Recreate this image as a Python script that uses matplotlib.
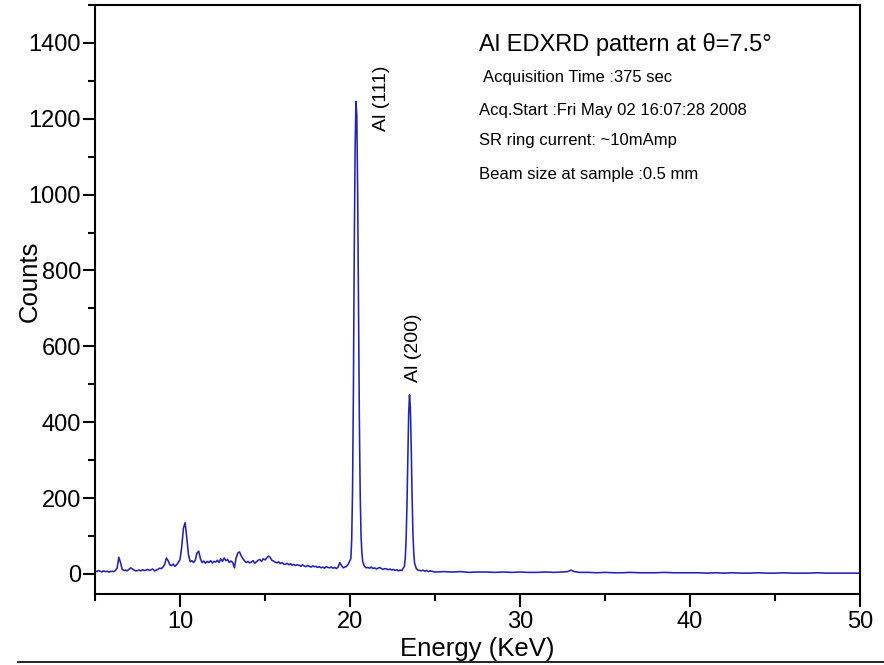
import numpy as np
import matplotlib
matplotlib.use('Agg')
import matplotlib.pyplot as plt
from matplotlib.ticker import MultipleLocator
from matplotlib.lines import Line2D

plt.rcParams['font.family'] = ['Liberation Sans', 'DejaVu Sans']

# --- spectrum ---
# low energy background, 5.0 .. 19.9 keV, 0.1 keV step
e_low = np.round(np.arange(5.0, 20.0, 0.1), 2)
c_low = [8, 6, 9, 7, 5, 8, 6, 7, 5, 6,
         7, 6, 9, 15, 44, 30, 12, 9, 10, 8,
         12, 16, 13, 10, 8, 9, 10, 8, 11, 9,
         10, 12, 9, 11, 13, 8, 10, 12, 15, 14,
         18, 25, 42, 35, 24, 22, 26, 20, 24, 30,
         38, 70, 120, 135, 95, 50, 32, 35, 30, 36,
         55, 60, 40, 30, 34, 28, 33, 30, 35, 29,
         33, 31, 36, 30, 40, 33, 42, 35, 38, 30,
         34, 30, 16, 42, 55, 58, 48, 40, 34, 30,
         33, 29, 31, 35, 28, 32, 36, 38, 33, 40,
         37, 42, 47, 44, 36, 34, 31, 29, 32, 27,
         30, 26, 25, 28, 24, 27, 23, 25, 22, 24,
         23, 20, 24, 21, 19, 22, 20, 18, 21, 19,
         20, 17, 19, 16, 18, 15, 19, 17, 16, 18,
         15, 17, 14, 18, 30, 22, 16, 18, 20, 26]

# Al (111) peak
e_111 = [20.05, 20.1, 20.15, 20.2, 20.25, 20.3, 20.35, 20.4, 20.45, 20.5,
         20.55, 20.6, 20.65, 20.7, 20.75, 20.85, 20.95]
c_111 = [40, 90, 220, 480, 850, 1120, 1246, 1210, 1010, 700,
         410, 210, 100, 55, 32, 20, 16]

# between the peaks, 21.05 .. 23.05 keV
e_mid = np.round(np.arange(21.05, 23.15, 0.1), 2)
c_mid = [17, 15, 18, 14, 16, 13, 15, 17, 14, 12, 14,
         13, 11, 13, 10, 12, 9, 11, 8, 10, 9]

# Al (200) peak
e_200 = [23.2, 23.25, 23.3, 23.35, 23.4, 23.45, 23.5, 23.55, 23.6, 23.65,
         23.7, 23.75, 23.8, 23.9, 24.0]
c_200 = [20, 40, 90, 180, 300, 420, 472, 440, 340, 210,
         110, 55, 28, 14, 10]

# high energy tail, 24.1 .. 50 keV
e_high = [24.1, 24.2, 24.3, 24.4, 24.5, 24.6, 24.7, 24.8, 24.9, 25.0,
          25.5, 26.0, 26.5, 27.0, 27.5, 28.0, 28.5, 29.0, 29.5, 30.0,
          30.5, 31.0, 31.5, 32.0, 32.5, 32.8, 33.0, 33.2, 33.5, 34.0,
          34.5, 35.0, 35.5, 36.0, 36.5, 37.0, 37.5, 38.0, 38.5, 39.0,
          39.5, 40.0, 40.5, 41.0, 41.5, 42.0, 42.5, 43.0, 43.5, 44.0,
          44.5, 45.0, 45.5, 46.0, 46.5, 47.0, 47.5, 48.0, 48.5, 49.0,
          49.5, 50.0]
c_high = [9, 8, 10, 7, 9, 6, 8, 7, 6, 5,
          6, 5, 6, 4, 5, 5, 4, 5, 4, 5,
          4, 4, 5, 4, 5, 6, 10, 6, 4, 4,
          3, 4, 3, 3, 4, 3, 3, 3, 4, 3,
          3, 3, 3, 2, 3, 2, 3, 2, 2, 3,
          2, 2, 3, 2, 2, 2, 3, 2, 2, 2,
          2, 2]

energy = np.concatenate([e_low, e_111, e_mid, e_200, e_high])
counts = np.concatenate([c_low, c_111, c_mid, c_200, c_high])

info = ["Acquisition Time :375 sec",
        "Acq.Start :Fri May 02 16:07:28 2008",
        "SR ring current: ~10mAmp",
        "Beam size at sample :0.5 mm"]

fig = plt.figure(figsize=(8.84, 6.65), dpi=100)
ax = fig.add_axes([95/884, 1-594/665, (860-95)/884, (594-5)/665])

ax.plot(energy, counts, color='#2222b4', lw=1.15)

ax.set_xlim(5, 50)
ax.set_ylim(-53, 1500)
ax.xaxis.set_major_locator(MultipleLocator(10))
ax.xaxis.set_minor_locator(MultipleLocator(5))
ax.yaxis.set_major_locator(MultipleLocator(200))
ax.yaxis.set_minor_locator(MultipleLocator(100))
ax.tick_params(which='major', direction='out', length=9, width=1.5, labelsize=17)
ax.tick_params(which='minor', direction='out', length=5, width=1.5)
ax.tick_params(axis='x', pad=3)
ax.tick_params(axis='y', pad=1)
for s in ax.spines.values():
    s.set_linewidth(1.5)

ax.set_xlabel('Energy (KeV)', fontsize=18.5)
ax.set_ylabel('Counts', fontsize=18.5)
ax.xaxis.set_label_coords(0.5, -0.073)
ax.yaxis.set_label_coords(-0.069, 0.531)

ax.text(27.6, 1395, u'Al EDXRD pattern at \u03b8=7.5\u00b0', fontsize=17, va='center', ha='left')
ys = [1308, 1223, 1142, 1052]
xs = [27.85, 27.6, 27.6, 27.6]
for t, xx, yy in zip(info, xs, ys):
    ax.text(xx, yy, t, fontsize=12, va='center', ha='left')

ax.text(21.85, 1255, 'Al (111)', rotation=90, fontsize=14, ha='center', va='center')
ax.text(23.76, 596, 'Al (200)', rotation=90, fontsize=14, ha='center', va='center')

fig.add_artist(Line2D([18/884, 1.0], [3/665, 3/665], color='black', lw=1.2))

fig.savefig('out.png', dpi=100)
